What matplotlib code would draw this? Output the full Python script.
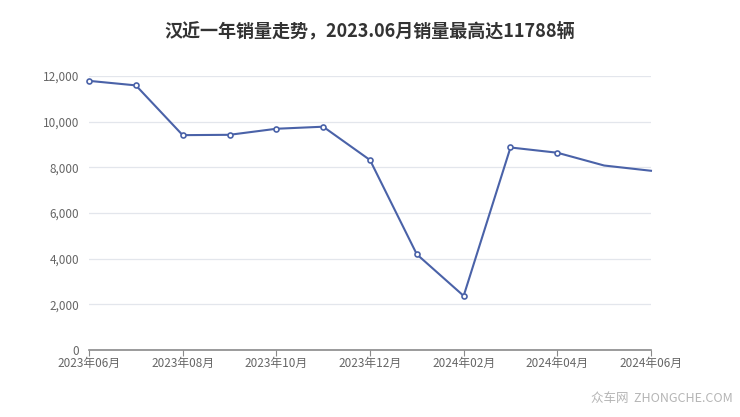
import matplotlib.pyplot as plt
from matplotlib.ticker import FuncFormatter

plt.rcParams['font.family'] = ['Noto Sans CJK SC', 'DejaVu Sans']

months = ['2023年06月', '2023年07月', '2023年08月', '2023年09月', '2023年10月',
          '2023年11月', '2023年12月', '2024年01月', '2024年02月', '2024年03月',
          '2024年04月', '2024年05月', '2024年06月']
sales = [11788, 11590, 9410, 9425, 9690, 9780, 8320, 4190, 2370, 8870, 8640, 8080, 7850]
yticks = [0, 2000, 4000, 6000, 8000, 10000, 12000]

fig = plt.figure(figsize=(7.4, 4.17), dpi=100)
ax = fig.add_axes([0.1203, 0.1607, 0.7594, 0.657])

x = list(range(len(months)))
ax.plot(x, sales, color='#4a62a8', lw=1.5, marker='o', markersize=3.6,
        markerfacecolor='white', markeredgewidth=1.2, markevery=list(range(11)),
        clip_on=False, zorder=3)

ax.set_xlim(0, len(months) - 1)
ax.set_ylim(0, 12000)
ax.set_yticks(yticks)
ax.yaxis.set_major_formatter(FuncFormatter(lambda v, p: f'{int(v):,}'))
ax.set_xticks(x[::2])
ax.set_xticklabels(months[::2])
ax.grid(axis='y', color='#e3e6ec', lw=0.9)
ax.set_axisbelow(True)

for s in ['top', 'right', 'left']:
    ax.spines[s].set_visible(False)
ax.spines['bottom'].set_color('#8a8a8a')
ax.spines['bottom'].set_linewidth(1.2)
ax.tick_params(axis='y', length=0, labelsize=8.5, labelcolor='#666666', pad=7)
ax.tick_params(axis='x', length=4, color='#8a8a8a', labelsize=8.5,
               labelcolor='#666666', pad=1)

fig.text(0.5, 0.925, '汉近一年销量走势，2023.06月销量最高达11788辆', ha='center',
         va='center', fontsize=13, fontweight='bold', color='#333333')
fig.text(0.99, 0.045, '众车网  ZHONGCHE.COM', ha='right', va='center',
         fontsize=9, color='#b5b5b5')

fig.savefig('out.png', dpi=100)
